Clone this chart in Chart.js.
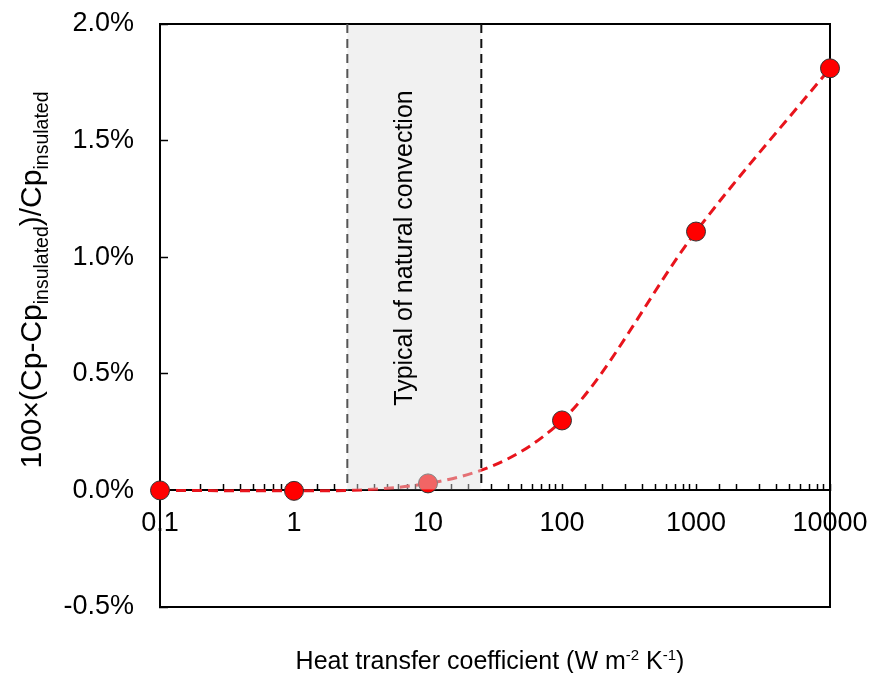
<!doctype html>
<html>

<head>
	<title>Heat transfer coefficient</title>
	<script src="https://cdn.jsdelivr.net/npm/chart.js@4.4.0/dist/chart.umd.min.js"></script>
	<style>
	body { margin: 0; background: #fff; }
	#wrap { width: 873px; height: 673px; }
	</style>
</head>

<body>
	<div id="wrap">
		<canvas id="canvas" width="873" height="673"></canvas>
	</div>
	<script>
		// values
		const heatCoeff = [0.1, 1, 10, 100, 1000, 10000];
		const cpDiffPct = [0, -0.002, 0.03, 0.30, 1.11, 1.81];
		const xTickLabels = ['0.1', '1', '10', '100', '1000', '10000'];
		const convectionRange = [2.5, 25];
		const convectionText = 'Typical of natural convection';

		const FONT = '"Liberation Sans", Arial, sans-serif';

		const points = heatCoeff.map((h, i) => ({ x: h, y: cpDiffPct[i] }));

		function isDecade(v) {
			const l = Math.log10(v);
			return Math.abs(l - Math.round(l)) < 1e-6;
		}

		// draw a run of text pieces, some of them sub/superscript
		function drawRich(ctx, parts, size, small) {
			let w = 0;
			parts.forEach(p => {
				ctx.font = (p.s ? small : size) + 'px ' + FONT;
				w += ctx.measureText(p.t).width;
			});
			let x = -w / 2;
			parts.forEach(p => {
				ctx.font = (p.s ? small : size) + 'px ' + FONT;
				let dy = 0;
				if (p.s === 'sub') dy = size * 0.22;
				if (p.s === 'sup') dy = -size * 0.38;
				ctx.fillText(p.t, x, dy);
				x += ctx.measureText(p.t).width;
			});
		}

		const framePlugin = {
			id: 'frame',
			beforeDatasetsDraw(chart) {
				const { ctx, chartArea: a } = chart;
				ctx.save();
				ctx.strokeStyle = '#000';
				ctx.lineWidth = 2;
				ctx.strokeRect(a.left, a.top, a.right - a.left, a.bottom - a.top);
				ctx.restore();
			}
		};

		const bandPlugin = {
			id: 'band',
			afterDatasetsDraw(chart) {
				const { ctx, chartArea: a, scales } = chart;
				const x1 = scales.x.getPixelForValue(convectionRange[0]);
				const x2 = scales.x.getPixelForValue(convectionRange[1]);
				const y0 = scales.y.getPixelForValue(0);
				ctx.save();
				ctx.fillStyle = 'rgba(225,225,225,0.45)';
				ctx.fillRect(x1, a.top + 1, x2 - x1, y0 - a.top - 2);
				ctx.lineWidth = 2;
				ctx.setLineDash([9, 6]);
				ctx.strokeStyle = '#555';
				ctx.beginPath();
				ctx.moveTo(x1, a.top);
				ctx.lineTo(x1, y0);
				ctx.stroke();
				ctx.strokeStyle = '#111';
				ctx.beginPath();
				ctx.moveTo(x2, a.top);
				ctx.lineTo(x2, y0);
				ctx.stroke();
				ctx.setLineDash([]);
				// label inside band
				ctx.translate((x1 + x2) / 2 - 9, 248);
				ctx.rotate(-Math.PI / 2);
				ctx.fillStyle = '#000';
				ctx.font = '25px ' + FONT;
				ctx.textAlign = 'center';
				ctx.textBaseline = 'middle';
				ctx.fillText(convectionText, 0, 0);
				ctx.restore();
			}
		};

		const titlesPlugin = {
			id: 'titles',
			afterDraw(chart) {
				const { ctx } = chart;
				ctx.save();
				ctx.fillStyle = '#000';
				ctx.textAlign = 'left';
				ctx.textBaseline = 'alphabetic';
				// x title
				ctx.save();
				ctx.translate(490, 669);
				drawRich(ctx, [
					{ t: 'Heat transfer coefficient (W m' },
					{ t: '-2', s: 'sup' },
					{ t: ' K' },
					{ t: '-1', s: 'sup' },
					{ t: ')' }
				], 25, 15);
				ctx.restore();
				// y title
				ctx.save();
				ctx.translate(41, 280);
				ctx.rotate(-Math.PI / 2);
				drawRich(ctx, [
					{ t: '100×(Cp-Cp' },
					{ t: 'insulated', s: 'sub' },
					{ t: ')/Cp' },
					{ t: 'insulated', s: 'sub' }
				], 30, 19.5);
				ctx.restore();
				ctx.restore();
			}
		};

		new Chart(document.getElementById('canvas'), {
			type: 'line',
			data: {
				datasets: [{
					data: points,
					borderColor: '#e8141c',
					borderWidth: 3,
					borderDash: [10, 6],
					cubicInterpolationMode: 'monotone',
					pointRadius: 9.5,
					pointBackgroundColor: '#ff0000',
					pointBorderColor: '#333',
					pointBorderWidth: 1,
					clip: false
				}]
			},
			options: {
				responsive: false,
				animation: false,
				layout: { padding: { left: 0, top: 24, right: 43, bottom: 66 } },
				plugins: { legend: { display: false }, tooltip: { enabled: false } },
				scales: {
					x: {
						type: 'logarithmic',
						position: { y: 0 },
						min: 0.1,
						max: 10000,
						afterFit: s => {
							s.height = 0;
							s.paddingLeft = 0;
							s.paddingRight = 0;
							s.paddingTop = 0;
							s.paddingBottom = 0;
						},
						grid: {
							display: true,
							drawOnChartArea: false,
							drawTicks: true,
							tickLength: -7,
							tickColor: '#000',
							tickWidth: 1.5
						},
						border: { display: true, color: '#000', width: 2 },
						ticks: {
							autoSkip: false,
							maxRotation: 0,
							minRotation: 0,
							padding: 24,
							color: '#000',
							font: { family: FONT, size: 27 },
							callback: v => isDecade(v) ? xTickLabels[Math.round(Math.log10(v)) + 1] : ''
						}
					},
					y: {
						min: -0.5,
						max: 2.0,
						afterFit: s => {
							s.width = 160;
							s.paddingTop = 0;
							s.paddingBottom = 0;
						},
						grid: {
							display: true,
							drawOnChartArea: false,
							drawTicks: true,
							tickLength: -8,
							tickColor: '#000',
							tickWidth: 1.5
						},
						border: { display: true, color: '#000', width: 2 },
						ticks: {
							stepSize: 0.5,
							padding: 34,
							color: '#000',
							font: { family: FONT, size: 27 },
							callback: v => v.toFixed(1) + '%'
						}
					}
				}
			},
			plugins: [framePlugin, bandPlugin, titlesPlugin]
		});
	</script>
</body>

</html>
